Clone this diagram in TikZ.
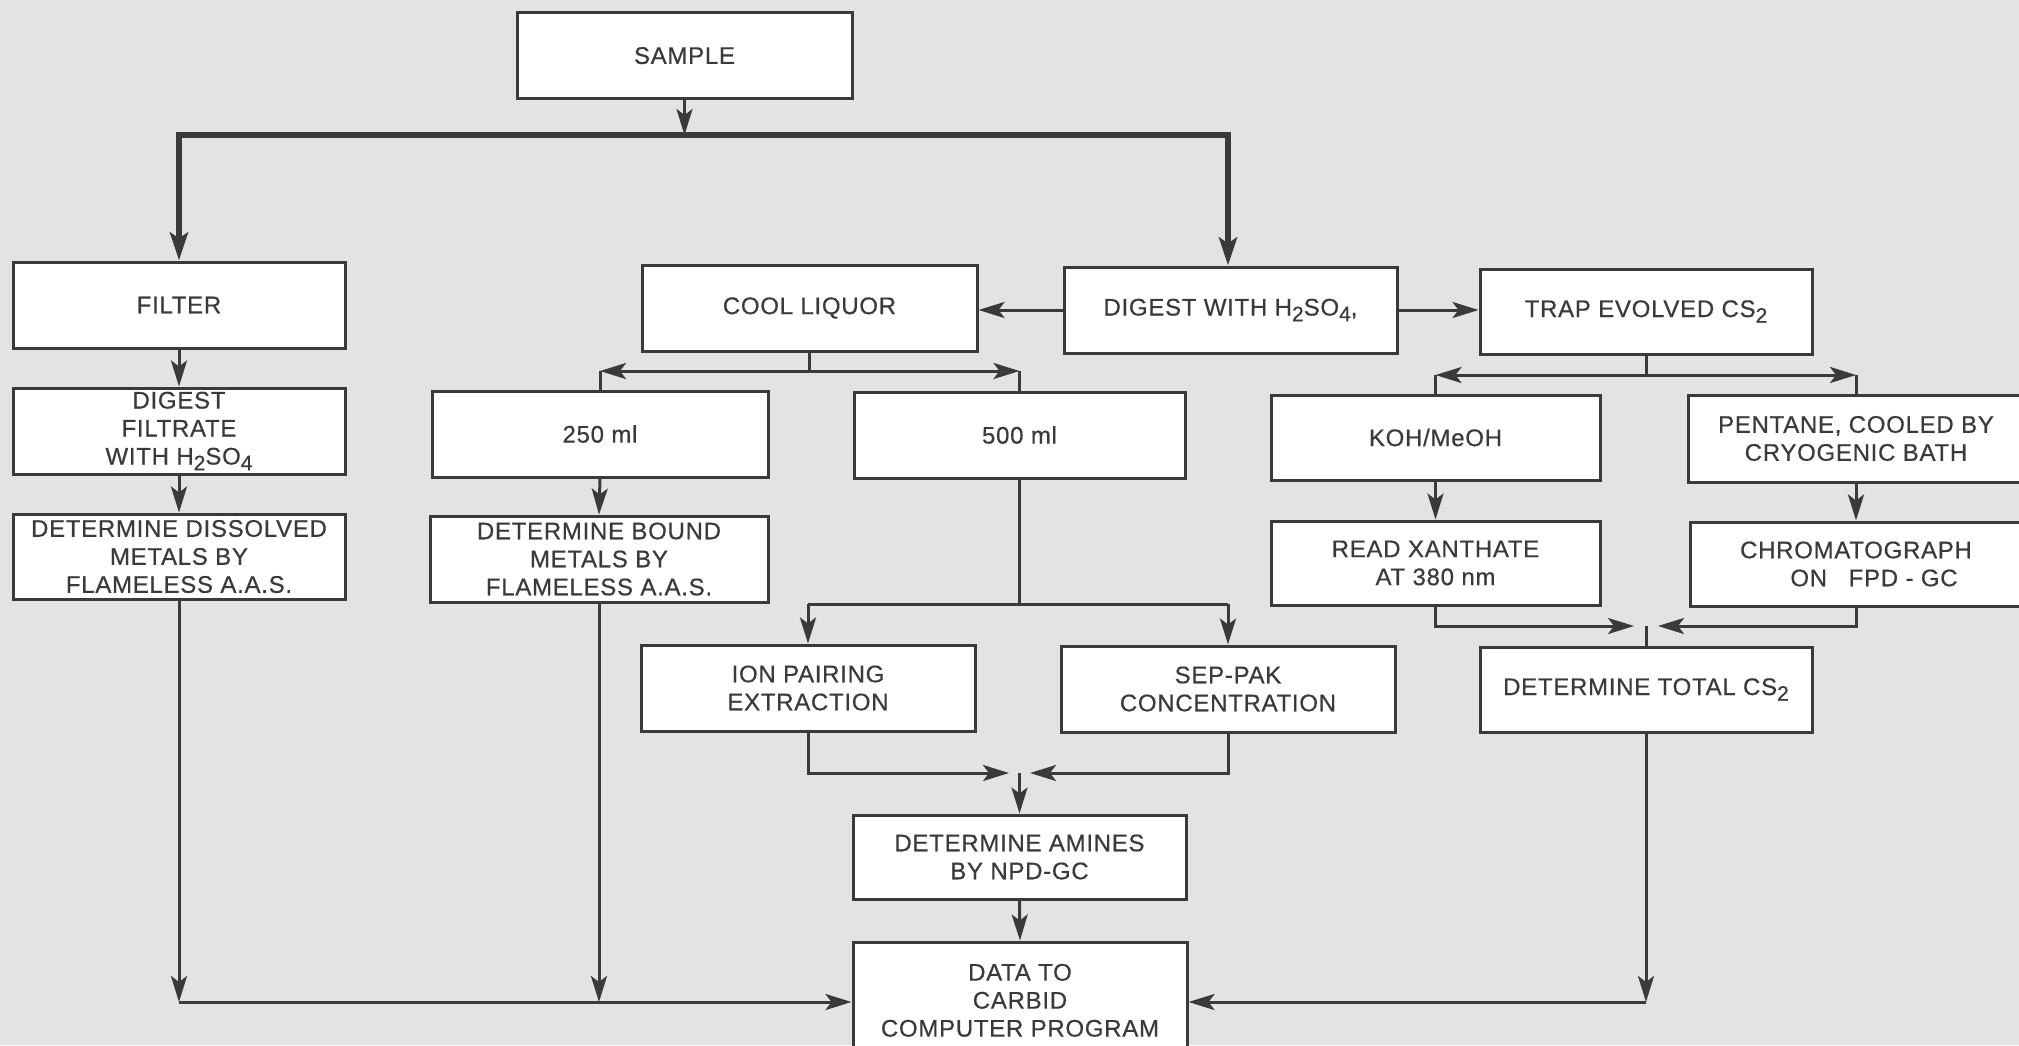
\documentclass[tikz,border=0pt]{standalone}
\usepackage{fontspec}
\setmainfont[LetterSpace=3,FakeBold=0.5]{Liberation Sans}
\usetikzlibrary{arrows.meta}
\definecolor{bg}{RGB}{227,227,227}
\definecolor{ink}{RGB}{58,58,58}
\newcommand\subs[1]{\raisebox{-0.45ex}{\fontsize{10.5}{10}\selectfont #1}}
\begin{document}
\begin{tikzpicture}[x=0.5pt,y=-0.5pt,
  box/.style={draw=ink, line width=1.5pt, fill=white, inner sep=0pt, align=center, text=ink,
    font=\fontsize{12}{14}\selectfont},
  conn/.style={draw=ink, line width=1.5pt},
  arr/.style={conn, -{Stealth[length=13pt,width=8pt,inset=3pt]}},
  thickln/.style={draw=ink, line width=3pt, {Stealth[length=14pt,width=9pt,inset=3pt]}-{Stealth[length=14pt,width=9pt,inset=3pt]}}]
\useasboundingbox (0,0) rectangle (2019,1045);
\fill[bg] (0,0) rectangle (2019,1045);
\clip (0,0) rectangle (2019,1045);

% boxes
\node[box, minimum width=167.5pt, minimum height=43pt] (sample) at (684.5,55.6) {SAMPLE};
\node[box, minimum width=166pt, minimum height=43pt] (filter) at (179,305) {FILTER};
\node[box, minimum width=166pt, minimum height=43pt] (digfilt) at (179,431) {DIGEST\\FILTRATE\\WITH H\subs{2}SO\subs{4}};
\node[box, minimum width=166pt, minimum height=42.5pt] (dissolved) at (179,556.5) {DETERMINE DISSOLVED\\METALS BY\\FLAMELESS A.A.S.};
\node[box, minimum width=167.5pt, minimum height=43pt] (cool) at (809.5,308) {COOL LIQUOR};
\node[box, minimum width=166.5pt, minimum height=43pt] (digest) at (1230.5,310) {DIGEST WITH H\subs{2}SO\subs{4},};
\node[box, minimum width=166pt, minimum height=42.5pt] (trap) at (1646,311.5) {TRAP EVOLVED CS\subs{2}};
\node[box, minimum width=168pt, minimum height=43pt] (ml250) at (600,434) {250 ml};
\node[box, minimum width=169pt, minimum height=43pt] (bound) at (599,559) {DETERMINE BOUND\\METALS BY\\FLAMELESS A.A.S.};
\node[box, minimum width=165.5pt, minimum height=43pt] (ml500) at (1019.5,435) {500 ml};
\node[box, minimum width=164.5pt, minimum height=42.5pt] (koh) at (1435.5,437.5) {KOH/MeOH};
\node[box, minimum width=168pt, minimum height=43.5pt] (pentane) at (1856,438.5) {PENTANE, COOLED BY\\CRYOGENIC BATH};
\node[box, minimum width=164.5pt, minimum height=42pt] (xanthate) at (1435.5,563) {READ XANTHATE\\AT 380 nm};
\node[box, minimum width=166pt, minimum height=42pt] (chrom) at (1856,564) {CHROMATOGRAPH\\\hspace{1.5em}ON\hspace{0.9em}FPD - GC};
\node[box, minimum width=167pt, minimum height=43pt] (ion) at (808,688) {ION PAIRING\\EXTRACTION};
\node[box, minimum width=167pt, minimum height=43pt] (seppak) at (1228,689) {SEP-PAK\\CONCENTRATION};
\node[box, minimum width=166pt, minimum height=42.5pt] (totalcs2) at (1646,689.5) {DETERMINE TOTAL CS\subs{2}};
\node[box, minimum width=166.5pt, minimum height=42pt] (amines) at (1019.5,857) {DETERMINE AMINES\\BY NPD-GC};
\node[box, minimum width=167pt, minimum height=54pt, text depth=0pt] (data) at (1020,996) {\raisebox{11pt}{\begin{tabular}{@{}c@{}}DATA TO\\CARBID\\COMPUTER PROGRAM\end{tabular}}};

% junction points
\coordinate (tl) at (179,135);
\coordinate (tr) at (1228,135);
\coordinate (cL) at (600,371);
\coordinate (cR) at (1019.5,371);
\coordinate (tL) at (1435.5,375);
\coordinate (tR) at (1856,375);
\coordinate (mL) at (808,604);
\coordinate (mR) at (1228,604);
\coordinate (xa) at (1634,626);
\coordinate (xb) at (1658,626);
\coordinate (xj) at (1646,626);
\coordinate (aa) at (1009,773);
\coordinate (ab) at (1030,773);
\coordinate (aj) at (1019.5,773);
\coordinate (bl) at (179,1002);
\coordinate (bm) at (599,1002);
\coordinate (br) at (1646,1002);

% main distribution
\draw[thickln] (filter.north) -- (tl) -- (tr) -- (tr |- digest.north);
\draw[arr] (sample.south) -- (sample.south |- tl);

% left column
\draw[arr] (filter.south) -- (digfilt.north);
\draw[arr] (digfilt.south) -- (dissolved.north);
\draw[arr] (dissolved.south) -- (bl);
\draw[arr] (bl) -- (data.west |- bl);

% digest to sides
\draw[arr] (digest.west) -- (digest.west -| cool.east);
\draw[arr] (digest.east) -- (digest.east -| trap.west);

% cool liquor split
\draw[conn] (cool.south) -- (cool.south |- cL);
\draw[arr] (cool.south |- cL) -- (cL);
\draw[arr] (cool.south |- cL) -- (cR);
\draw[conn] (cL) -- (ml250.north);
\draw[conn] (cR) -- (ml500.north);
\draw[arr] (ml250.south) -- (bound.north);
\draw[arr] (bound.south) -- (bm);

% 500 ml split
\draw[conn] (ml500.south) -- (ml500.south |- mL);
\draw[conn] (mL) -- (mR);
\draw[arr] (mL) -- (ion.north);
\draw[arr] (mR) -- (seppak.north);
\draw[arr] (ion.south) |- (aa);
\draw[arr] (seppak.south) |- (ab);
\draw[arr] (aj) -- (amines.north);
\draw[arr] (amines.south) -- (data.north);

% trap split
\draw[conn] (trap.south) -- (trap.south |- tL);
\draw[arr] (trap.south |- tL) -- (tL);
\draw[arr] (trap.south |- tL) -- (tR);
\draw[conn] (tL) -- (koh.north);
\draw[conn] (tR) -- (pentane.north);
\draw[arr] (koh.south) -- (xanthate.north);
\draw[arr] (pentane.south) -- (chrom.north);
\draw[arr] (xanthate.south) |- (xa);
\draw[arr] (chrom.south) |- (xb);
\draw[conn] (xj) -- (totalcs2.north);
\draw[arr] (totalcs2.south) -- (br);
\draw[arr] (br) -- (data.east |- br);
\end{tikzpicture}
\end{document}
